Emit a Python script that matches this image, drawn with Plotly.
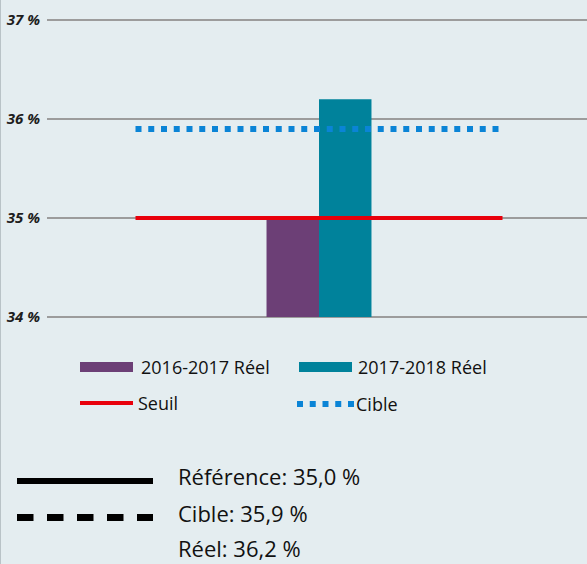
import plotly.graph_objects as go

# data
periodes = ["2016-2017 Réel", "2017-2018 Réel"]
reel = [35.0, 36.2]
couleurs = ["#6c3f76", "#00829b"]
seuil = 35.0
cible = 35.9
reference = 35.0
y_ticks = [34, 35, 36, 37]
y_labels = ["34 %", "35 %", "36 %", "37 %"]

BG = "#e4edf0"
W, H = 587, 564
L, R, T, B = 47, 0, 18, 245
PW, PH = W - L - R, H - T - B


def fx(px):
    """pixel x -> paper x"""
    return (px - L) / PW


def fy(py):
    """pixel y -> paper y"""
    return (H - B - py) / PH


def fr(v):
    return f"{v:.1f}".replace(".", ",") + " %"


fig = go.Figure()

# bars, side by side around x=0
bw = 0.286
for i, (name, val, col) in enumerate(zip(periodes, reel, couleurs)):
    fig.add_trace(go.Bar(
        x=[0], y=[val - 34], base=34, width=[bw], offset=[-bw + i * bw],
        marker=dict(color=col, line_width=0), name=name, showlegend=False,
    ))

fig.add_trace(go.Scatter(
    x=[-1, 1], y=[seuil, seuil], mode="lines",
    line=dict(color="#e8000b", width=4), showlegend=False,
))
fig.add_trace(go.Scatter(
    x=[-1, 1], y=[cible, cible], mode="lines",
    line=dict(color="#0a84d6", width=6, dash="6px,6.75px"), showlegend=False,
))

font = "Open Sans"
shapes = []
ann = []

# legend, top block
shapes.append(dict(type="rect", xref="paper", yref="paper",
                   x0=fx(80), x1=fx(133), y0=fy(372), y1=fy(362),
                   fillcolor=couleurs[0], line_width=0))
shapes.append(dict(type="rect", xref="paper", yref="paper",
                   x0=fx(299), x1=fx(352), y0=fy(372), y1=fy(362),
                   fillcolor=couleurs[1], line_width=0))
shapes.append(dict(type="line", xref="paper", yref="paper",
                   x0=fx(80), x1=fx(133), y0=fy(403), y1=fy(403),
                   line=dict(color="#e8000b", width=4)))
shapes.append(dict(type="line", xref="paper", yref="paper",
                   x0=fx(297), x1=fx(354), y0=fy(404), y1=fy(404),
                   line=dict(color="#0a84d6", width=6, dash="6px,6.75px")))
for txt, x, y in [(periodes[0], 139, 367), (periodes[1], 356, 367),
                  ("Seuil", 136, 403), ("Cible", 354, 404)]:
    ann.append(dict(text=txt, xref="paper", yref="paper", x=fx(x), y=fy(y),
                    xanchor="left", yanchor="middle", showarrow=False,
                    font=dict(family=font, size=18, color="#111111")))

# legend, bottom block
shapes.append(dict(type="line", xref="paper", yref="paper",
                   x0=fx(17), x1=fx(153), y0=fy(481), y1=fy(481),
                   line=dict(color="#000000", width=6)))
shapes.append(dict(type="line", xref="paper", yref="paper",
                   x0=fx(17), x1=fx(153), y0=fy(517.5), y1=fy(517.5),
                   line=dict(color="#000000", width=7, dash="16.5px,13.5px")))
for txt, y in [(f"Référence: {fr(reference)}", 476), (f"Cible: {fr(cible)}", 513),
               (f"Réel: {fr(reel[1])}", 548)]:
    ann.append(dict(text=txt, xref="paper", yref="paper", x=fx(176), y=fy(y),
                    xanchor="left", yanchor="middle", showarrow=False,
                    font=dict(family=font, size=22, color="#111111")))

# thin left border
shapes.append(dict(type="line", xref="paper", yref="paper",
                   x0=fx(0.5), x1=fx(0.5), y0=fy(0), y1=fy(H),
                   line=dict(color="#b9c3c7", width=1)))

fig.update_layout(
    width=W, height=H,
    margin=dict(l=L, r=R, t=T, b=B),
    paper_bgcolor=BG, plot_bgcolor=BG,
    barmode="overlay",
    shapes=shapes, annotations=ann,
    showlegend=False,
)
fig.update_xaxes(range=[(47 - 319) / 183.5, (587 - 319) / 183.5],
                 showgrid=False, zeroline=False, showticklabels=False,
                 fixedrange=True)
fig.update_yaxes(range=[33.98, 37.02], tickvals=y_ticks, ticktext=y_labels,
                 showgrid=True, gridcolor="#9c9c9c", gridwidth=2,
                 zeroline=False, ticks="", ticklabelstandoff=6,
                 tickfont=dict(family=font, size=15, color="#1e1e1e",
                               weight="bold", style="italic"),
                 fixedrange=True)

fig.write_html("out.html", config={"displayModeBar": False},
               post_script="document.body.style.margin='0';")
